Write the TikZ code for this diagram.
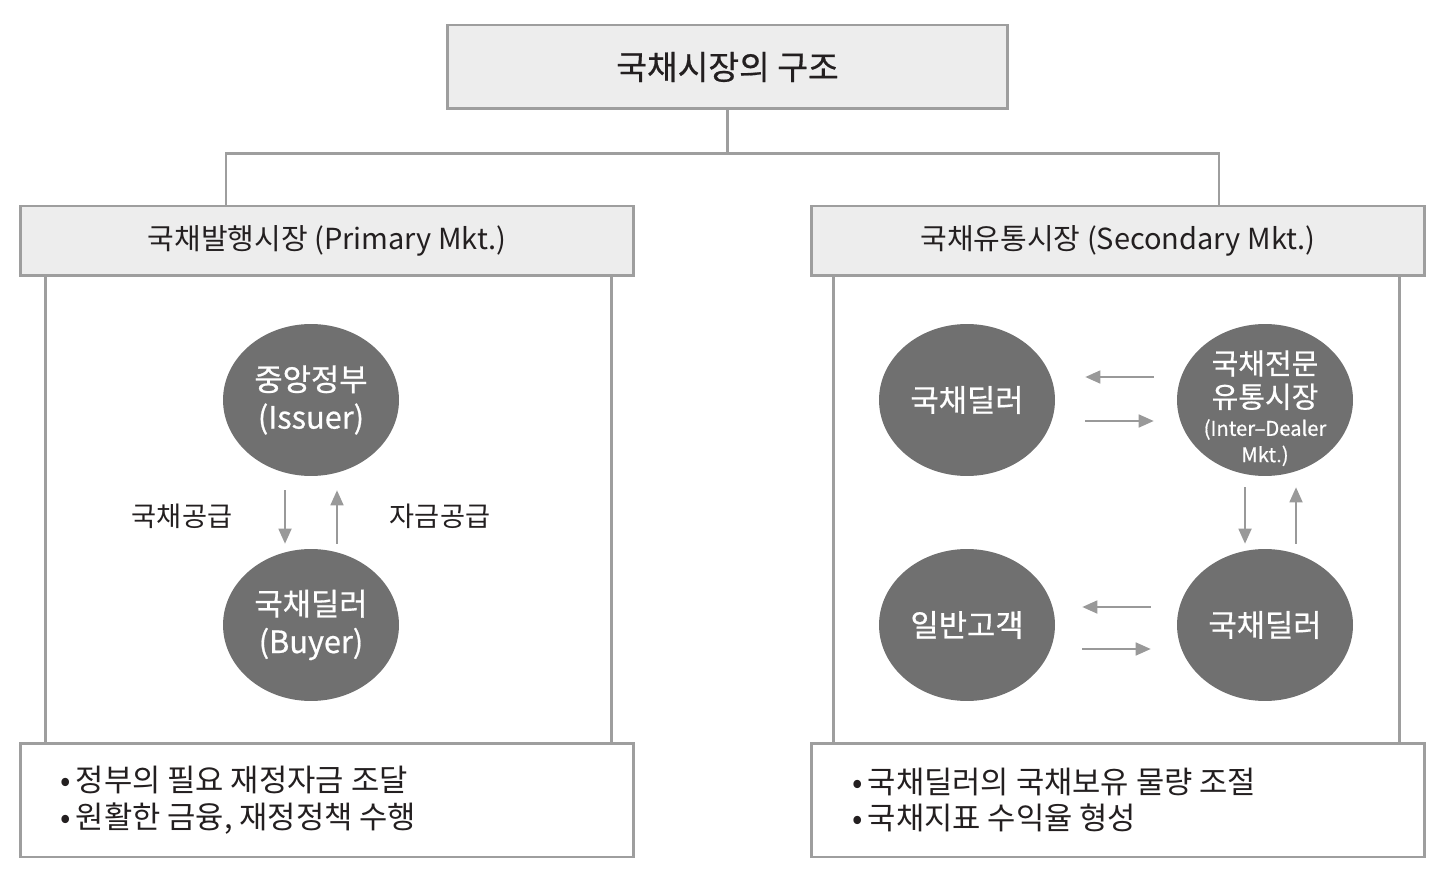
\documentclass[tikz,border=0pt]{standalone}
\usepackage{fontspec}
\setmainfont{Noto Sans CJK KR}
\newfontfamily\medfont[FakeBold=0.6]{Noto Sans CJK KR}
\usetikzlibrary{shapes.geometric,arrows.meta,calc}

\begin{document}
\begin{tikzpicture}[x=0.02cm,y=-0.02cm,line cap=butt]
  % Styles
  \tikzset{
    box/.style={draw=boxline, line width=1.7pt, fill=boxfill, text=textclr,
      minimum width=12.28cm, minimum height=1.4cm, inner sep=0pt},
    notebox/.style={draw=boxline, line width=1.7pt, fill=white,
      minimum width=12.28cm, minimum height=2.28cm, inner sep=0pt},
    party/.style={ellipse, fill=partyfill, text=white, align=center,
      minimum width=3.52cm, minimum height=3.04cm, inner sep=0pt,
      font=\medfont\fontsize{17.5}{21.5}\selectfont},
    link/.style={draw=boxline, line width=1.5pt},
    flow/.style={draw=flowclr, line width=1pt,
      -{Triangle[length=0.3cm,width=0.26cm]}},
    label/.style={text=textclr, font=\fontsize{15.5}{18}\selectfont},
    note/.style={text=textclr, anchor=west, align=left,
      font=\fontsize{17.5}{21}\selectfont}
  }

  % Colors
  \colorlet{boxline}{black!38}
  \colorlet{boxfill}{black!7}
  \colorlet{partyfill}{black!56}
  \colorlet{flowclr}{black!40}
  \definecolor{textclr}{HTML}{231F20}

  \useasboundingbox (0,0) rectangle (1442,878);

  % Title and market headers
  \node[box, minimum width=11.22cm, minimum height=1.68cm,
    font=\medfont\fontsize{19}{22}\selectfont] (title) at (727.5,67) {국채시장의 구조};
  \node[box, font=\fontsize{16.5}{20}\selectfont] (primary) at (327,241)
    {국채발행시장 (Primary Mkt.)};
  \node[box, font=\fontsize{16.5}{20}\selectfont] (secondary) at (1118,241)
    {국채유통시장 (Secondary Mkt.)};

  % Tree lines
  \draw[link] (title.south) -- ++(0,43) coordinate (fork);
  \draw[link] (fork) -| ([xshift=-2.02cm]primary.north);
  \draw[link] (fork) -| ([xshift=2.02cm]secondary.north);

  % Bottom notes
  \node[notebox] (notesL) at (327,800) {};
  \node[notebox] (notesR) at (1118,800) {};
  \node[note] (noteL) at (54,800) {•\,정부의 필요 재정자금 조달\\•\,원활한 금융, 재정정책 수행};
  \node[note] (noteR) at (846,800) {•\,국채딜러의 국채보유 물량 조절\\•\,국채지표 수익율 형성};

  % Panel sides
  \draw[link] ($(primary.south west)+(27,0)$) -- ($(notesL.north west)+(27,0)$);
  \draw[link] ($(primary.south east)+(-24,0)$) -- ($(notesL.north east)+(-24,0)$);
  \draw[link] ($(secondary.south west)+(24,0)$) -- ($(notesR.north west)+(24,0)$);
  \draw[link] ($(secondary.south east)+(-27,0)$) -- ($(notesR.north east)+(-27,0)$);

  % Primary market
  \node[party] (gov) at (311,400) {중앙정부\\(Issuer)};
  \node[party] (buyer) at (311,625) {국채딜러\\(Buyer)};
  \draw[flow, shorten <=0.28cm, shorten >=0.1cm]
    ([xshift=-0.52cm]gov.south) -- ([xshift=-0.52cm]buyer.north);
  \draw[flow, shorten <=0.1cm, shorten >=0.28cm]
    ([xshift=0.52cm]buyer.north) -- ([xshift=0.52cm]gov.south);
  \node[label] (bondsup) at (182,516) {국채공급};
  \node[label] (fundsup) at (440,516) {자금공급};

  % Secondary market
  \node[party] (dealerA) at (967,400) {국채딜러};
  \node[party, inner sep=-0.5cm, font=\medfont\fontsize{16.5}{19}\selectfont] (idm) at (1265,400)
    {\rule{0pt}{23pt}국채전문\\유통시장\\[-3pt]{\fontsize{11.5}{14}\selectfont (Inter–Dealer}\\[-4pt]{\fontsize{11.5}{14}\selectfont Mkt.)}};
  \node[party] (client) at (967,625) {일반고객};
  \node[party] (dealerB) at (1265,625) {국채딜러};

  \draw[flow, shorten <=0.46cm, shorten >=0.6cm]
    ([yshift=0.46cm]idm.west) -- ([yshift=0.46cm]dealerA.east);
  \draw[flow, shorten <=0.6cm, shorten >=0.46cm]
    ([yshift=-0.42cm]dealerA.east) -- ([yshift=-0.42cm]idm.west);
  \draw[flow, shorten <=0.52cm, shorten >=0.54cm]
    ([yshift=0.36cm]dealerB.west) -- ([yshift=0.36cm]client.east);
  \draw[flow, shorten <=0.54cm, shorten >=0.52cm]
    ([yshift=-0.48cm]client.east) -- ([yshift=-0.48cm]dealerB.west);
  \draw[flow, shorten <=0.22cm, shorten >=0.1cm]
    ([xshift=-0.4cm]idm.south) -- ([xshift=-0.4cm]dealerB.north);
  \draw[flow, shorten <=0.1cm, shorten >=0.22cm]
    ([xshift=0.62cm]dealerB.north) -- ([xshift=0.62cm]idm.south);
\end{tikzpicture}
\end{document}
